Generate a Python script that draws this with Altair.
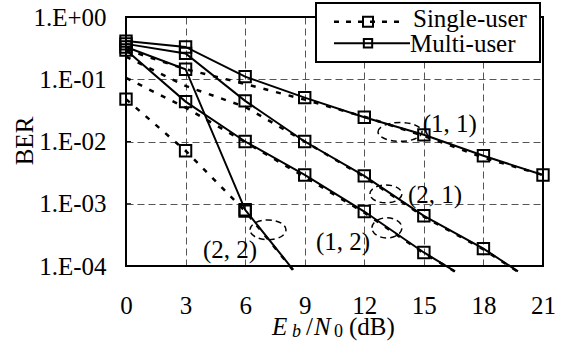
import altair as alt
import pandas as pd

# Eb/N0 grid (dB)
snr_db = [0, 3, 6, 9, 12, 15, 18, 21]

# Multi-user BER curves (solid)
mu_11 = [0.41, 0.33, 0.11, 0.0507, 0.0245, 0.0128, 0.0059, 0.0029]
mu_21 = [0.37, 0.26, 0.045, 0.010, 0.0028, 6.4e-4, 1.9e-4]
mu_12 = [0.295, 0.0437, 0.010, 0.0029, 7.5e-4, 1.65e-4]
mu_22 = [0.33, 0.145, 8.0e-4]

# Single-user BER curves (dashed)
su_11 = [0.30, 0.145, 0.084, 0.047, 0.025, 0.0123, 0.0055, 0.0029]
su_21 = [0.23, 0.078, 0.036, 0.010, 0.0027, 6.2e-4, 1.85e-4]
su_12 = [0.105, 0.035, 0.0098, 0.0027, 7.2e-4, 1.6e-4]
su_22 = [0.048, 0.0071, 7.6e-4]

# last point of each curve that runs past the bottom of the frame
tails = {
    "mu_21": (19.74, 8.2e-5), "mu_12": (16.57, 8.2e-5), "mu_22": (8.42, 8.7e-5),
    "su_21": (19.70, 8.2e-5), "su_12": (16.55, 8.2e-5), "su_22": (8.40, 8.7e-5),
}

curves = {
    "mu_11": ("Multi-user", mu_11, True), "mu_21": ("Multi-user", mu_21, True),
    "mu_12": ("Multi-user", mu_12, True), "mu_22": ("Multi-user", mu_22, True),
    "su_11": ("Single-user", su_11, False), "su_21": ("Single-user", su_21, False),
    "su_12": ("Single-user", su_12, False), "su_22": ("Single-user", su_22, True),
}

rows = []
for key, (kind, vals, marked) in curves.items():
    for i, v in enumerate(vals):
        rows.append({"curve": key, "kind": kind, "snr": snr_db[i], "ber": v,
                     "order": i, "marker": marked})
    if key in tails:
        s, b = tails[key]
        rows.append({"curve": key, "kind": kind, "snr": s, "ber": b,
                     "order": len(vals), "marker": False})
df = pd.DataFrame(rows)

# decade positions on the BER axis
ber_ticks = [1e-4, 1e-3, 1e-2, 1e-1, 1]

# (Nt, Nr) annotations: dashed ellipse around each pair of curves, plus label
ann_snr = [13.8, 13.09, 13.14, 7.15]
ann_ber = [0.01426, 1.44e-3, 4.1e-4, 3.81e-4]
ann_w = [44, 32, 30, 36]
ann_ratio = [0.43, 0.56, 0.67, 0.55]
lab_snr = [16.31, 15.56, 10.93, 5.24]
lab_ber = [0.0192, 1.39e-3, 2.45e-4, 1.82e-4]
lab_text = ["(1, 1)", "(2, 1)", "(1, 2)", "(2, 2)"]

SERIF = "Liberation Serif"
FS = 25

xs = alt.Scale(domain=[0, 21], nice=False)
ys = alt.Scale(type="log", domain=[1e-4, 1], nice=False)

x_enc = alt.X("snr:Q", scale=xs, axis=alt.Axis(
    values=snr_db, title=None, grid=True, gridDash=[7, 4], gridColor="#555",
    gridWidth=1, ticks=False, domain=False, labelFont=SERIF, labelFontSize=FS,
    labelColor="black", labelPadding=27, labelFlush=False))
y_enc = alt.Y("ber:Q", scale=ys, axis=alt.Axis(
    values=ber_ticks, title=None, grid=True, gridDash=[7, 4],
    gridColor="#555", gridWidth=1, ticks=False, domain=False, labelFont=SERIF,
    labelFontSize=FS, labelColor="black", labelPadding=20,
    labelExpr="'1.E' + (datum.value >= 1 ? '+00' : '-0' + round(-log(datum.value) / LN10))"))

base = alt.Chart(df)

solid = base.transform_filter("datum.kind == 'Multi-user'").mark_line(
    color="black", strokeWidth=2).encode(x=x_enc, y=y_enc, detail="curve:N", order="order:Q")
dashed = base.transform_filter("datum.kind == 'Single-user'").mark_line(
    color="black", strokeWidth=2.5, strokeDash=[5, 8]).encode(
    x="snr:Q", y="ber:Q", detail="curve:N", order="order:Q")
markers = base.transform_filter("datum.marker").mark_point(
    shape="square", filled=False, size=130, color="black", strokeWidth=2, opacity=1).encode(
    x="snr:Q", y="ber:Q")

one = pd.DataFrame({"k": [0]})
frame = alt.Chart(one).mark_rect(fill=None, stroke="black", strokeWidth=2).encode(
    x=alt.value(0), x2=alt.value(417), y=alt.value(0), y2=alt.value(249))

# short inward ticks on the BER axis
inner_ticks = alt.Chart(pd.DataFrame({"ber": ber_ticks[1:-1]})).mark_rule(
    color="black", strokeWidth=1).encode(
    y="ber:Q", x=alt.value(0), x2=alt.value(5))

ellipses = []
for i in range(4):
    r = ann_ratio[i]
    path = f"M -1 0 A 1 {r} 0 1 1 1 0 A 1 {r} 0 1 1 -1 0 Z"
    e = alt.Chart(pd.DataFrame({"snr": [ann_snr[i]], "ber": [ann_ber[i]]})).mark_point(
        shape=path, filled=False, size=ann_w[i] ** 2, color="black", strokeWidth=1.5,
        strokeDash=[6, 4], opacity=1).encode(x="snr:Q", y="ber:Q")
    ellipses.append(e)

labels = alt.Chart(pd.DataFrame({"snr": lab_snr, "ber": lab_ber, "t": lab_text})).mark_text(
    font=SERIF, fontSize=FS, color="black", align="center", baseline="middle").encode(
    x="snr:Q", y="ber:Q", text="t:N")

# legend box
leg_box = alt.Chart(one).mark_rect(fill="white", stroke="black", strokeWidth=2).encode(
    x=alt.value(190), x2=alt.value(414), y=alt.value(-14), y2=alt.value(45))
leg_dash = alt.Chart(one).mark_rule(color="black", strokeWidth=2.5, strokeDash=[5, 7]).encode(
    x=alt.value(208), x2=alt.value(277), y=alt.value(4.7))
leg_solid = alt.Chart(one).mark_rule(color="black", strokeWidth=2).encode(
    x=alt.value(208), x2=alt.value(284), y=alt.value(26.3))
leg_m1 = alt.Chart(one).mark_point(shape="square", filled=False, size=100, color="black",
                                   strokeWidth=2, opacity=1).encode(
    x=alt.value(242), y=alt.value(4.7))
leg_m2 = alt.Chart(one).mark_point(shape="square", filled=False, size=70, color="black",
                                   strokeWidth=2, opacity=1).encode(
    x=alt.value(242), y=alt.value(26.3))
leg_t1 = alt.Chart(one).mark_text(font=SERIF, fontSize=FS, color="black", align="left",
                                  baseline="alphabetic", text="Single-user").encode(
    x=alt.value(287), y=alt.value(10))
leg_t2 = alt.Chart(one).mark_text(font=SERIF, fontSize=FS, color="black", align="left",
                                  baseline="alphabetic", text="Multi-user").encode(
    x=alt.value(284), y=alt.value(35))

# axis titles
ber_title = alt.Chart(one).mark_text(font=SERIF, fontSize=FS, color="black", angle=270,
                                     align="center", baseline="middle", text="BER").encode(
    x=alt.value(-101), y=alt.value(124))


def piece(txt, x, y, size=FS, italic=False):
    return alt.Chart(one).mark_text(font=SERIF, fontSize=size, color="black", align="left",
                                    baseline="alphabetic", text=txt,
                                    fontStyle="italic" if italic else "normal").encode(
        x=alt.value(x), y=alt.value(y))


x_title = [
    piece("E", 146, 318, italic=True),
    piece("b", 166, 320, size=18, italic=True),
    piece("/", 180, 318),
    piece("N", 188, 318, italic=True),
    piece("0", 208, 320, size=18),
    piece("(dB)", 223, 318),
]

chart = alt.layer(
    solid, dashed, markers, frame, inner_ticks, *ellipses, labels,
    leg_box, leg_dash, leg_solid, leg_m1, leg_m2, leg_t1, leg_t2,
    ber_title, *x_title
).properties(
    width=417, height=249, autosize="none",
    padding={"left": 126, "top": 17, "right": 20, "bottom": 75},
    background="white",
).configure_view(stroke=None)

chart.save("out.html", embed_options={"renderer": "svg", "actions": False})
